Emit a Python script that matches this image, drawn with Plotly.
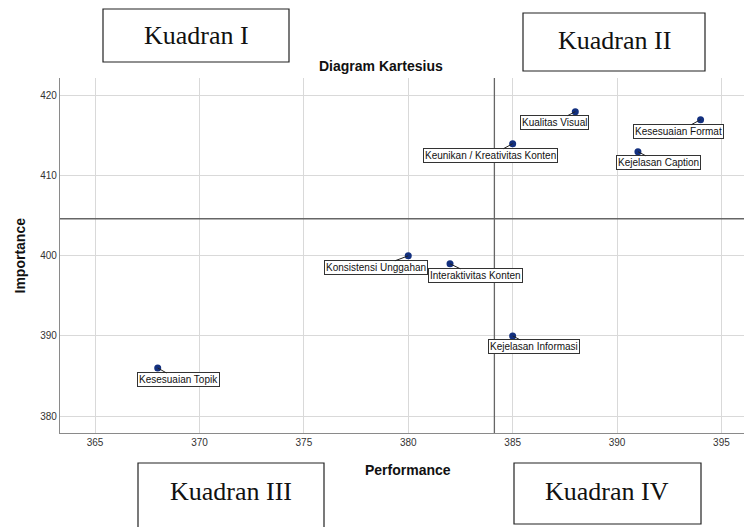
import plotly.graph_objects as go

labels = ["Kesesuaian Topik", "Konsistensi Unggahan", "Interaktivitas Konten",
          "Kejelasan Informasi", "Keunikan / Kreativitas Konten", "Kualitas Visual",
          "Kejelasan Caption", "Kesesuaian Format"]
performance = [368, 380, 382, 385, 385, 388, 391, 394]
importance = [386, 400, 399, 390, 414, 418, 413, 417]
# label box offsets (pixels) relative to each point
label_dx = [21, -32, 25, 21, -22, -21, 21, -22]
label_dy = [12, 12, 12, 11, 12, 11, 11, 12]

x_ticks = [365, 370, 375, 380, 385, 390, 395]
y_ticks = [380, 390, 400, 410, 420]
quadrants = ["Kuadran I", "Kuadran II", "Kuadran III", "Kuadran IV"]

mean_perf = sum(performance) / len(performance)
mean_imp = sum(importance) / len(importance)

W, H = 744, 527
L, R, T, B = 60, 0, 78, 94
pw, ph = W - L - R, H - T - B

def px(x):
    return (x - L) / pw

def py(y):
    return (H - B - y) / ph

fig = go.Figure()
fig.add_trace(go.Scatter(
    x=performance, y=importance, mode="markers",
    marker=dict(color="#13307f", size=7),
    hoverinfo="text", text=labels, showlegend=False,
))

# reference lines at means
fig.add_shape(type="line", xref="x", yref="paper", x0=mean_perf, x1=mean_perf, y0=0, y1=1,
              line=dict(color="#666666", width=1.3))
fig.add_shape(type="line", xref="paper", yref="y", x0=0, x1=1, y0=mean_imp, y1=mean_imp,
              line=dict(color="#666666", width=1.3))

anns = []
for lab, xv, yv, dx, dy in zip(labels, performance, importance, label_dx, label_dy):
    anns.append(dict(
        x=xv, y=yv, xref="x", yref="y", text=lab, showarrow=True,
        arrowhead=0, arrowwidth=1, arrowcolor="#222222", ax=dx, ay=dy,
        font=dict(family="Liberation Sans, Arial", size=10, color="#111111"),
        bgcolor="white", bordercolor="#333333", borderwidth=1, borderpad=1,
    ))

def txt(x, y, text, size, family, angle=0):
    return dict(x=px(x), y=py(y), xref="paper", yref="paper", text=text, showarrow=False,
                xanchor="center", yanchor="middle", textangle=angle,
                font=dict(family=family, size=size, color="#111"))

SANS = "Liberation Sans, Arial"
anns.append(txt(381, 66, "<b>Diagram Kartesius</b>", 14, SANS))
anns.append(txt(408, 470, "<b>Performance</b>", 14, SANS))
anns.append(txt(19, 255.5, "<b>Importance</b>", 14, SANS, angle=-90))

# quadrant boxes
boxes = [(103, 9, 289, 62, 196, 36), (523, 13, 705, 71, 614, 41),
         (138, 463, 324, 540, 231, 491), (514, 463, 701, 524, 607, 491)]
for q, (x0, y0, x1, y1, cx, cy) in zip(quadrants, boxes):
    fig.add_shape(type="rect", xref="paper", yref="paper",
                  x0=px(x0), x1=px(x1), y0=py(y1), y1=py(y0),
                  line=dict(color="#222222", width=1.2), fillcolor="rgba(0,0,0,0)")
    anns.append(txt(cx, cy, q, 26, "Liberation Serif, Times New Roman"))

fig.update_layout(
    width=W, height=H, margin=dict(l=L, r=R, t=T, b=B),
    paper_bgcolor="white", plot_bgcolor="white",
    annotations=anns, showlegend=False,
    xaxis=dict(range=[363.32, 396.08], tickvals=x_ticks, ticktext=[str(v) for v in x_ticks],
               showgrid=True, gridcolor="#d9d9d9", gridwidth=1.3, zeroline=False,
               showline=True, linecolor="#8a8a8a", linewidth=1.3, ticks="",
               tickfont=dict(family=SANS, size=10, color="#333")),
    yaxis=dict(range=[377.88, 422.2], tickvals=y_ticks, ticktext=[str(v) for v in y_ticks],
               showgrid=True, gridcolor="#d9d9d9", gridwidth=1.3, zeroline=False,
               showline=True, linecolor="#8a8a8a", linewidth=1.3, ticks="",
               tickfont=dict(family=SANS, size=10, color="#333")),
)

fig.write_html("out.html", config={"displayModeBar": False},
               post_script="document.body.style.margin='0';document.body.style.overflow='hidden';")
